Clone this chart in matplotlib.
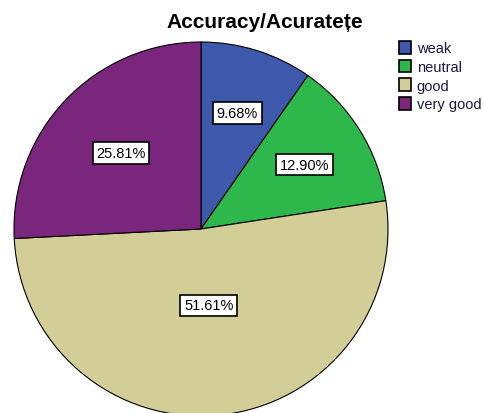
import numpy as np
import matplotlib.pyplot as plt
from matplotlib.patches import Patch

plt.rcParams['font.family'] = ['Liberation Sans', 'DejaVu Sans']

labels = ["weak", "neutral", "good", "very good"]
percents = [9.68, 12.90, 51.61, 25.81]
colors = ["#3E58AC", "#2EB84C", "#D3CE97", "#79267C"]
label_dist = [0.65, 0.65, 0.41, 0.59]

fig = plt.figure(figsize=(4.84, 4.14), dpi=100)
# pie centre ~ (201, 230) px, radius ~187 px
r_px = 187
cx, cy = 201, 230
ax = fig.add_axes([(cx - r_px) / 484, (414 - cy - r_px) / 414,
                   2 * r_px / 484, 2 * r_px / 414])
wedges, _ = ax.pie(percents, colors=colors, startangle=90, counterclock=False,
                   radius=1, wedgeprops=dict(edgecolor="black", linewidth=0.8))
ax.set_xlim(-1, 1)
ax.set_ylim(-1, 1)
ax.axis("off")

for w, p, d in zip(wedges, percents, label_dist):
    ang = np.deg2rad((w.theta1 + w.theta2) / 2)
    ax.text(d * np.cos(ang), d * np.sin(ang), f"{p:.2f}%", ha="center", va="center",
            fontsize=10.5, color="black",
            bbox=dict(boxstyle="square,pad=0.25", facecolor="white", edgecolor="black", linewidth=1.2))

fig.text(265 / 484, 1 - 22 / 414, "Accuracy/Acuratețe", ha="center", va="center",
         fontsize=15, fontweight="bold")

handles = [Patch(facecolor=c, edgecolor="black", linewidth=1.2) for c in colors]
fig.legend(handles, labels, loc="upper left", bbox_to_anchor=(399 / 484, 1 - 42 / 414),
           frameon=False, fontsize=10.5, handlelength=0.82, handleheight=0.95,
           handletextpad=0.4, labelspacing=0.3, borderpad=0, borderaxespad=0,
           labelcolor="#1a1a40")

fig.savefig("out.png", dpi=100)
